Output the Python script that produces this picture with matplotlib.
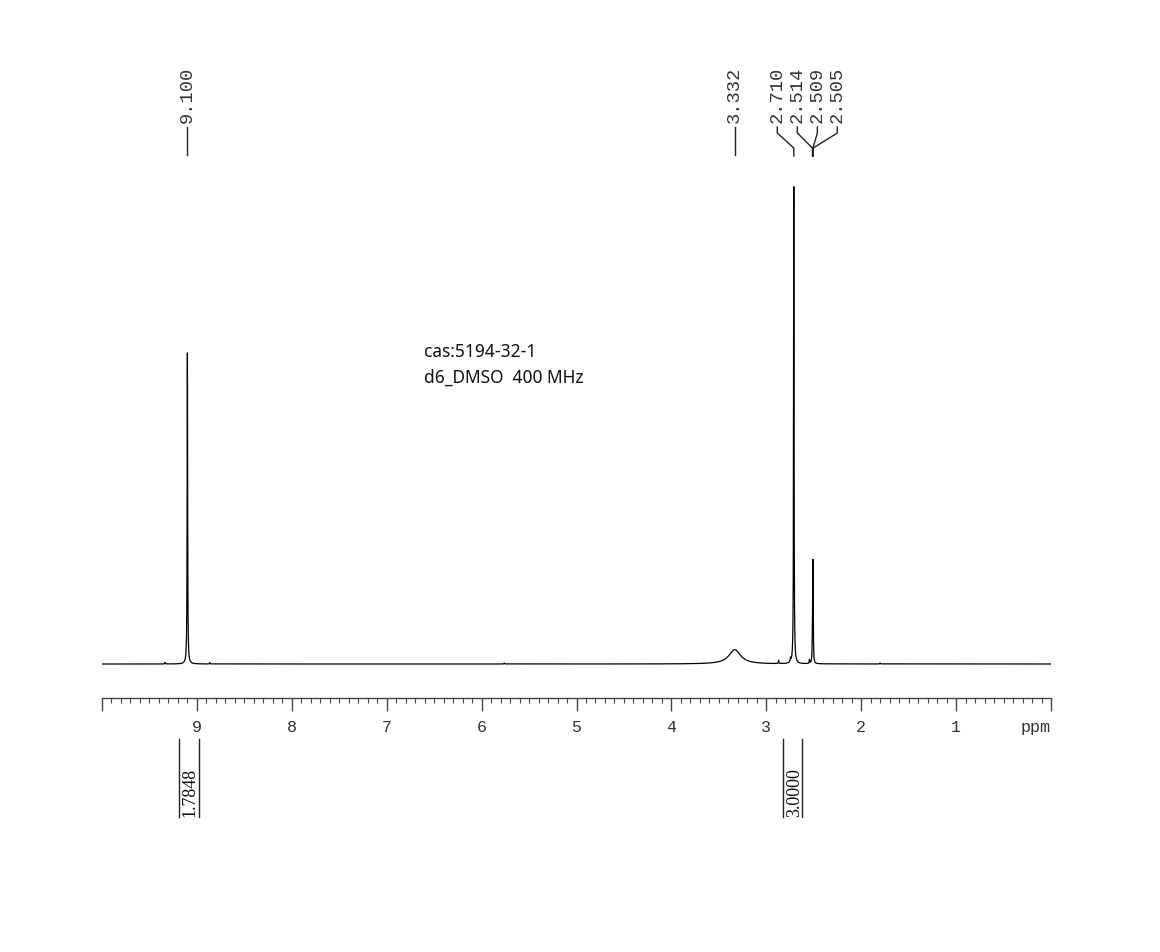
import numpy as np
import matplotlib
matplotlib.use('Agg')
import matplotlib.pyplot as plt

# peak list (ppm, relative height, half width)
peak_ppm = [9.100, 3.332, 2.710, 2.514, 2.509, 2.505, 9.335, 8.865, 5.760, 2.870, 2.745, 2.545, 1.800]
peak_height = [0.652, 0.030, 1.000, 0.050, 0.195, 0.050, 0.003, 0.003, 0.002, 0.007, 0.008, 0.008, 0.002]
peak_hw = [0.0030, 0.075, 0.0028, 0.0025, 0.0025, 0.0025, 0.003, 0.003, 0.003, 0.003, 0.003, 0.003, 0.003]

# labels at the top
label_ppm = [9.100, 3.332, 2.710, 2.514, 2.509, 2.505]
label_text = ['9.100', '3.332', '2.710', '2.514', '2.509', '2.505']
label_pos = [9.100, 3.332, 2.884, 2.673, 2.462, 2.252]

# integrals
integ_from = [9.19, 2.82]
integ_to = [8.98, 2.62]
integ_value = ['1.7848', '3.0000']

W, H = 1160, 953
fig = plt.figure(figsize=(W / 100, H / 100), dpi=100)
top_px, axis_px, base_px, unit_px = 40, 699, 665, 477
ax = fig.add_axes([102 / W, 1 - axis_px / H, (1051 - 102) / W, (axis_px - top_px) / H])


def py(px):
    # pixel row -> intensity units
    return (base_px - px) / unit_px


x = np.linspace(0, 10, 40001)
y = np.zeros_like(x)
for p, h, w in zip(peak_ppm, peak_height, peak_hw):
    y += h / (1 + ((x - p) / w) ** 2)

ax.plot(x, y, color='black', lw=0.9)
ax.set_xlim(10, 0)
ax.set_ylim(py(axis_px), py(top_px))

for s in ['top', 'left', 'right']:
    ax.spines[s].set_visible(False)
ax.spines['bottom'].set_color('#444444')
ax.spines['bottom'].set_linewidth(1.0)
ax.set_yticks([])
ax.set_xticks(np.arange(0, 11))
ax.set_xticklabels(['ppm'] + [str(i) for i in range(1, 10)] + [''])
ax.set_xticks(np.arange(0, 10.01, 0.1), minor=True)
ax.tick_params(axis='x', which='major', direction='out', length=9, width=1, color='#444444',
               pad=6, labelsize=12, labelcolor='#333333')
ax.tick_params(axis='x', which='minor', direction='out', length=3.5, width=0.8, color='#444444')
for t in ax.get_xticklabels():
    t.set_fontfamily('Liberation Mono')
ax.get_xticklabels()[0].set_horizontalalignment('right')

# peak labels with connectors
for p, txt, lp in zip(label_ppm, label_text, label_pos):
    ax.text(lp, py(123), txt, rotation=90, ha='center', va='bottom',
            fontsize=13.5, family='Liberation Mono', color='#333333')
    if abs(lp - p) < 1e-6:
        ax.plot([p, p], [py(128), py(156)], color='#222222', lw=1)
    else:
        ax.plot([lp, lp, p, p], [py(128), py(134), py(149), py(157)], color='#222222', lw=1)

# integrals below the axis
for a, b, v in zip(integ_from, integ_to, integ_value):
    ax.plot([a, a], [py(740), py(818)], color='#222222', lw=1, clip_on=False)
    ax.plot([b, b], [py(740), py(818)], color='#222222', lw=1, clip_on=False)
    ax.text((a + b) / 2 - 0.015, py(817), v, rotation=90, ha='center', va='bottom',
            fontsize=13, family='Liberation Serif', color='#111111', clip_on=False)

ax.text(6.61, py(352), 'cas:5194-32-1', ha='left', va='center', fontsize=12.5,
        family='Noto Sans', color='#111111')
ax.text(6.61, py(378), 'd6_DMSO  400 MHz', ha='left', va='center', fontsize=12.5,
        family='Noto Sans', color='#111111')

fig.savefig('out.png', dpi=100)
